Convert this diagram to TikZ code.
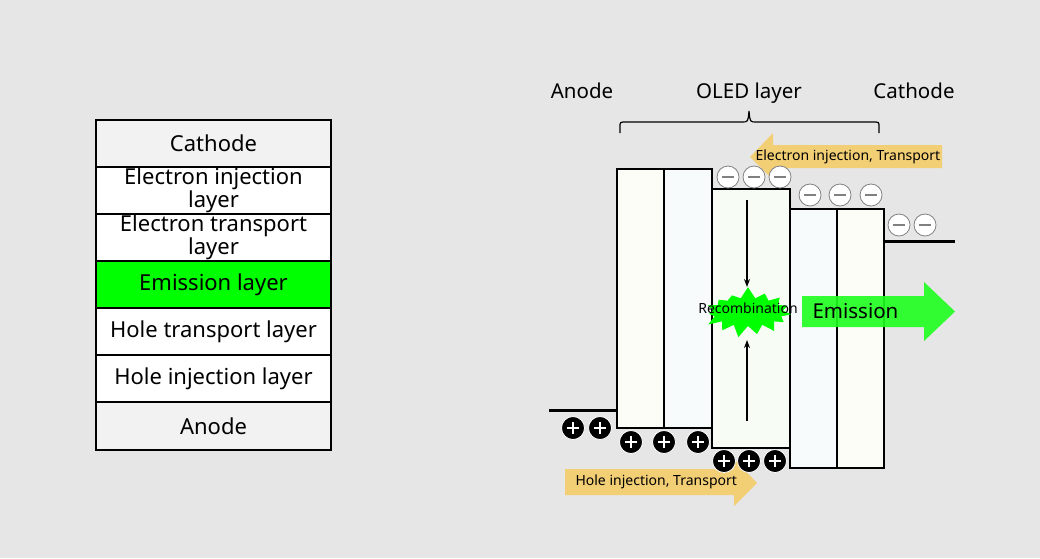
\documentclass[tikz,border=0pt]{standalone}
\usepackage{fontspec}
\setmainfont{Noto Sans}
\usetikzlibrary{arrows.meta,shapes.symbols}
\definecolor{bg}{HTML}{E6E6E6}
\definecolor{lightrow}{HTML}{F2F2F2}
\definecolor{emgreen}{HTML}{00FF00}
\definecolor{arrowgreen}{HTML}{1EFF1E}
\definecolor{yel}{HTML}{F2CE75}
\definecolor{fillY}{HTML}{FCFDF7}
\definecolor{fillB}{HTML}{F7FBFC}
\definecolor{fillG}{HTML}{F7FDF5}
\definecolor{minusedge}{HTML}{808080}
\tikzset{
  rowbox/.style={draw=black, line width=1.2pt, minimum width=235pt, minimum height=47pt,
     inner sep=0pt, outer sep=0pt, anchor=north west, align=center,
     font=\fontsize{22}{19}\selectfont},
  layerbox/.style={draw=black, line width=1.2pt, inner sep=0pt, outer sep=0pt, anchor=north west},
  toplabel/.style={font=\fontsize{20.5}{22}\selectfont, anchor=base},
  minuscirc/.style={circle, draw=minusedge, fill=white, line width=0.8pt, minimum size=22pt,
     inner sep=0pt,
     path picture={\draw[line width=1.8pt] ([xshift=-6pt]path picture bounding box.center) -- ([xshift=6pt]path picture bounding box.center);}},
  pluscirc/.style={circle, draw=white, fill=black, line width=0.8pt, minimum size=23pt,
     inner sep=0pt,
     path picture={\draw[white, line width=2.4pt] ([xshift=-6pt]path picture bounding box.center) -- ([xshift=6pt]path picture bounding box.center);
                   \draw[white, line width=2.4pt] ([yshift=-6pt]path picture bounding box.center) -- ([yshift=6pt]path picture bounding box.center);}},
  smalltext/.style={font=\fontsize{14}{16}\selectfont},
  electrode/.style={line width=3pt}
}
\begin{document}
\begin{tikzpicture}[x=1pt,y=-1pt]
\useasboundingbox (0,0) rectangle (1040,558);
\fill[bg] (0,0) rectangle (1040,558);

% ---- left stack ----
\node[rowbox, fill=lightrow] (cath) at (96,120) {Cathode};
\node[rowbox, fill=white] (eil) at (96,167) {Electron injection\\layer};
\node[rowbox, fill=white] (etl) at (96,214) {Electron transport\\layer};
\node[rowbox, fill=emgreen] (em) at (96,261) {Emission layer};
\node[rowbox, fill=white] (htl) at (96,308) {Hole transport layer};
\node[rowbox, fill=white] (hil) at (96,355) {Hole injection layer};
\node[rowbox, fill=lightrow, minimum height=48pt] (an) at (96,402) {Anode};

% ---- top labels ----
\node[toplabel] (lanode) at (582,98) {Anode};
\node[toplabel] (loled) at (749,98) {OLED layer};
\node[toplabel] (lcath) at (914,98) {Cathode};

% brace
\draw[line width=1.2pt] (620,133) -- (620,127) .. controls (620,122) .. (626,122)
   -- (742,122) .. controls (748,122) .. (749,111)
   .. controls (750,122) .. (756,122) -- (873,122)
   .. controls (879,122) .. (879,127) -- (879,133);

% ---- electrodes ----
\coordinate (anL) at (549,410);
\coordinate (anR) at (618,410);
\draw[electrode] (anL) -- (anR);
\coordinate (caL) at (884,241);
\coordinate (caR) at (955,241);
\draw[electrode] (caL) -- (caR);

% ---- layers ----
\node[layerbox, fill=fillY, minimum width=47pt, minimum height=259pt] (rhil) at (617,169) {};
\node[layerbox, fill=fillB, minimum width=48pt, minimum height=259pt] (rhtl) at (664,169) {};
\node[layerbox, fill=fillG, minimum width=78pt, minimum height=259pt] (reml) at (712,189) {};
\node[layerbox, fill=fillB, minimum width=47pt, minimum height=259pt] (retl) at (790,209) {};
\node[layerbox, fill=fillY, minimum width=47pt, minimum height=259pt] (reil) at (837,209) {};
\draw[line width=2pt] (rhil.north east) -- (rhil.south east);

% ---- recombination arrows ----
\coordinate (dA) at (747,200);
\coordinate (dB) at (747,287);
\coordinate (uA) at (747,421);
\coordinate (uB) at (747,340);
\draw[line width=1.3pt, -{Stealth[length=8pt,width=6pt]}] (dA) -- (dB);
\draw[line width=1.3pt, -{Stealth[length=8pt,width=6pt]}] (uA) -- (uB);

% ---- star ----
\node[starburst, fill=emgreen, draw=none, minimum width=94pt, minimum height=52pt,
      starburst points=15, starburst point height=12pt, random starburst=7, inner sep=0pt] (star) at (748,312) {};
\node[smalltext] (recomb) at (748,308) {Recombination};

% ---- emission arrow ----
\fill[arrowgreen, opacity=0.9] (802,296) -- (924,296) -- (924,282) -- (955,311.5) -- (924,341) -- (924,327) -- (802,327) -- cycle;
\node[font=\fontsize{20.5}{22}\selectfont, anchor=west] (emis) at (809,311) {Emission};

% ---- electron arrow ----
\fill[yel] (942,145) -- (773,145) -- (773,133) -- (750,157) -- (773,180) -- (773,168) -- (942,168) -- cycle;
\node[smalltext, anchor=west] (etext) at (752,157) {Electron injection, Transport};

% ---- hole arrow ----
\fill[yel] (565,469) -- (734,469) -- (734,459) -- (757,483) -- (734,506) -- (734,495) -- (565,495) -- cycle;
\node[smalltext, anchor=west] (htext) at (572,482) {Hole injection, Transport};

% ---- electrons ----
\node[minuscirc] (e1) at (728,177) {};
\node[minuscirc] (e2) at (754,177) {};
\node[minuscirc] (e3) at (780,177) {};
\node[minuscirc] (e4) at (810,195) {};
\node[minuscirc] (e5) at (840,195) {};
\node[minuscirc] (e6) at (871,195) {};
\node[minuscirc] (e7) at (899,225) {};
\node[minuscirc] (e8) at (925,225) {};

% ---- holes ----
\node[pluscirc] (h1) at (573,428) {};
\node[pluscirc] (h2) at (600,428) {};
\node[pluscirc] (h3) at (631,442) {};
\node[pluscirc] (h4) at (664,442) {};
\node[pluscirc] (h5) at (698,442) {};
\node[pluscirc] (h6) at (724,461) {};
\node[pluscirc] (h7) at (749,461) {};
\node[pluscirc] (h8) at (775,461) {};
\end{tikzpicture}
\end{document}
